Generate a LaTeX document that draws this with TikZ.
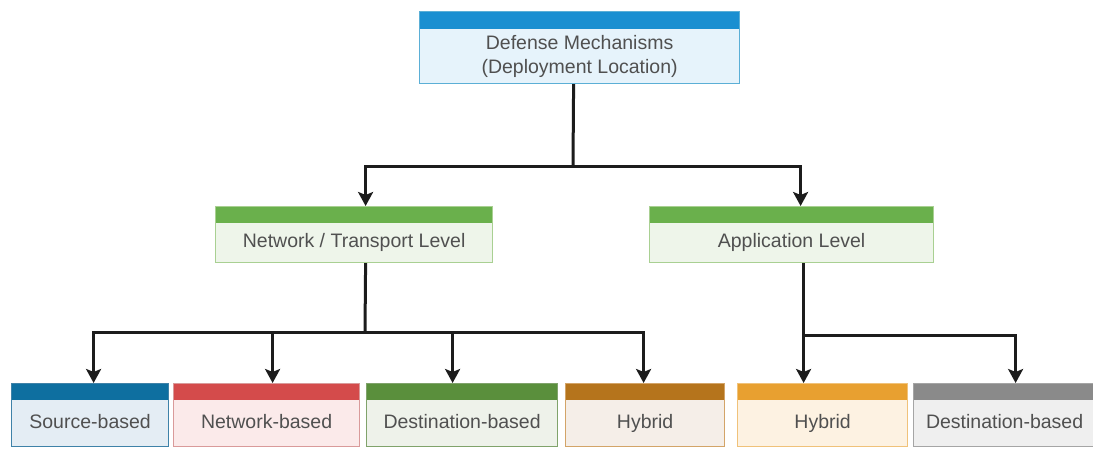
\documentclass[tikz,border=0pt]{standalone}
\usepackage{fontspec}
\setmainfont{Liberation Sans}
\usetikzlibrary{arrows.meta}
\definecolor{txt}{HTML}{505050}
\definecolor{linec}{HTML}{1C1C1C}
\definecolor{topH}{HTML}{1A8FD1}\definecolor{topB}{HTML}{E6F3FB}\definecolor{topD}{HTML}{5BAFD6}
\definecolor{midH}{HTML}{6AB04C}\definecolor{midB}{HTML}{EEF5EA}\definecolor{midD}{HTML}{A9D092}
\definecolor{srcH}{HTML}{0E6FA0}\definecolor{srcB}{HTML}{E4EDF4}\definecolor{srcD}{HTML}{3F82A8}
\definecolor{netH}{HTML}{D44B4B}\definecolor{netB}{HTML}{FBEAEA}\definecolor{netD}{HTML}{D99A9A}
\definecolor{dstH}{HTML}{5A8F3C}\definecolor{dstB}{HTML}{EEF2EA}\definecolor{dstD}{HTML}{80A36B}
\definecolor{hybH}{HTML}{B5741C}\definecolor{hybB}{HTML}{F5EEE8}\definecolor{hybD}{HTML}{D3A468}
\definecolor{hyoH}{HTML}{E8A030}\definecolor{hyoB}{HTML}{FDF2E2}\definecolor{hyoD}{HTML}{F0C27A}
\definecolor{gryH}{HTML}{8A8A8A}\definecolor{gryB}{HTML}{EFEFEF}\definecolor{gryD}{HTML}{A5A5A5}
\tikzset{
  box/.style n args={4}{draw=#3, fill=#2, line width=1.2pt, inner sep=0pt, anchor=north west,
    path picture={\fill[#1] (path picture bounding box.north west) rectangle ([yshift=-#4]path picture bounding box.north east);}},
  lbl/.style={text=txt, font=\fontsize{19.5}{24}\selectfont, align=center},
  lbl1/.style={lbl, text height=14pt, text depth=4pt},
  wire/.style={draw=linec, line width=3pt},
  arr/.style={wire, -{Stealth[length=14pt,width=15pt,inset=3pt]}},
}
\begin{document}
\begin{tikzpicture}[x=1pt,y=-1pt]
\useasboundingbox[fill=white] (0,0) rectangle (1093,448);
% top
\node[box={topH}{topB}{topD}{17pt}, minimum width=320pt, minimum height=72pt,
  label={[lbl,yshift=-9pt]center:Defense Mechanisms\\(Deployment Location)}] (top) at (419,11) {};
% middle
\node[box={midH}{midB}{midD}{16pt}, minimum width=277pt, minimum height=56pt,
  label={[lbl1,yshift=-8pt]center:Network / Transport Level}] (nt) at (215,206) {};
\node[box={midH}{midB}{midD}{16pt}, minimum width=284pt, minimum height=56pt,
  label={[lbl1,yshift=-8pt]center:Application Level}] (app) at (649,206) {};
% bottom
\node[box={srcH}{srcB}{srcD}{16pt}, minimum width=157pt, minimum height=63pt,
  label={[lbl1,yshift=-8pt]center:Source-based}] (src) at (11,383) {};
\node[box={netH}{netB}{netD}{16pt}, minimum width=186pt, minimum height=63pt,
  label={[lbl1,yshift=-8pt]center:Network-based}] (net) at (173,383) {};
\node[box={dstH}{dstB}{dstD}{16pt}, minimum width=191pt, minimum height=63pt,
  label={[lbl1,yshift=-8pt]center:Destination-based}] (dst) at (366,383) {};
\node[box={hybH}{hybB}{hybD}{16pt}, minimum width=159pt, minimum height=63pt,
  label={[lbl1,yshift=-8pt]center:Hybrid}] (hyb) at (565,383) {};
\node[box={hyoH}{hyoB}{hyoD}{16pt}, minimum width=170pt, minimum height=63pt,
  label={[lbl1,yshift=-8pt]center:Hybrid}] (hyo) at (737,383) {};
\node[box={gryH}{gryB}{gryD}{16pt}, minimum width=186pt, minimum height=63pt,
  label={[lbl1,xshift=-2pt,yshift=-8pt]center:Destination-based}] (gry) at (913,383) {};
% junctions
\coordinate (j1) at (573,166);
\coordinate (j2) at (365,332);
\coordinate (j3) at (803,335);
% connectors
\draw[wire] ([xshift=-6pt]top.south) -- (j1);
\draw[arr] (j1) -| ([xshift=11.5pt]nt.north);
\draw[arr] (j1) -| ([xshift=9pt]app.north);
\draw[wire] ([xshift=11.5pt]nt.south) -- (j2);
\draw[arr] (j2) -| ([xshift=3.5pt]src.north);
\draw[arr] (j2) -| ([xshift=6pt]net.north);
\draw[arr] (j2) -| ([xshift=-9.5pt]dst.north);
\draw[arr] (j2) -| ([xshift=-1.5pt]hyb.north);
\draw[arr] ([xshift=12pt]app.south) -- ([xshift=-19pt]hyo.north);
\draw[arr] (j3) -| ([xshift=9pt]gry.north);
\end{tikzpicture}
\end{document}
